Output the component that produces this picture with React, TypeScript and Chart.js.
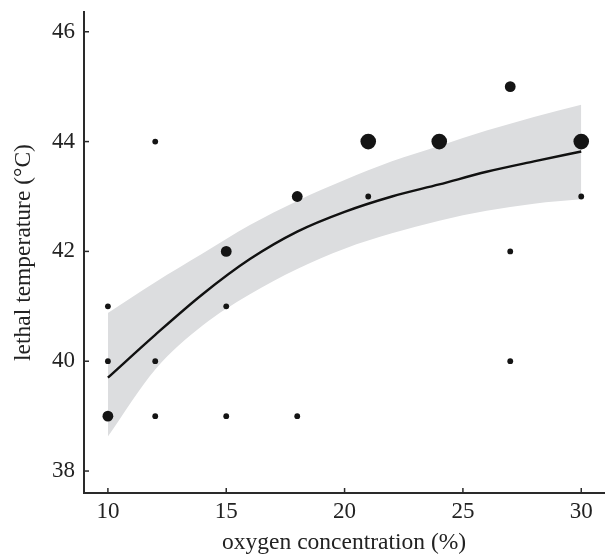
import React, { useEffect, useRef } from "react";
import { Chart, registerables } from "chart.js";

Chart.register(...registerables);

// Observations: oxygen concentration (%), lethal temperature (°C), number of overlapping observations
const obsOxygen = [10, 10, 10, 12, 12, 12, 15, 15, 15, 18, 18, 21, 21, 24, 27, 27, 27, 30, 30];
const obsTemp = [41, 40, 39, 44, 40, 39, 42, 41, 39, 43, 39, 44, 43, 44, 45, 42, 40, 44, 43];
const obsCount = [1, 1, 2, 1, 1, 1, 2, 1, 1, 2, 1, 3, 1, 3, 2, 1, 1, 3, 1];

// Fitted curve with confidence band
const fitOxygen = [10, 12, 14, 16, 18, 20, 22, 24, 26, 28, 30];
const fitTemp = [39.7, 40.48, 41.22, 41.86, 42.36, 42.72, 43.0, 43.22, 43.45, 43.64, 43.82];
const fitLower = [38.63, 39.85, 40.65, 41.22, 41.68, 42.05, 42.33, 42.56, 42.74, 42.87, 42.95];
const fitUpper = [40.88, 41.44, 41.96, 42.48, 42.92, 43.3, 43.64, 43.92, 44.2, 44.45, 44.67];

const xTicks = [10, 15, 20, 25, 30];
const yTicks = [38, 40, 42, 44, 46];
const xTitle = "oxygen concentration (%)";
const yTitle = "lethal temperature (°C)";

const radiusByCount: Record<number, number> = { 1: 2.9, 2: 5.4, 3: 7.8 };
const FONT = "'Liberation Serif', 'Times New Roman', serif";
const TEXT = "#222";
const AXIS = "#2a2a2a";

const inwardTicks = {
  id: "inwardTicks",
  afterDraw(chart: any) {
    const { ctx, chartArea, scales } = chart;
    ctx.save();
    ctx.strokeStyle = AXIS;
    ctx.lineWidth = 1.5;
    const len = 5;
    scales.x.ticks.forEach((t: any) => {
      const px = scales.x.getPixelForValue(t.value);
      ctx.beginPath();
      ctx.moveTo(px, chartArea.bottom);
      ctx.lineTo(px, chartArea.bottom - len);
      ctx.stroke();
    });
    scales.y.ticks.forEach((t: any) => {
      const py = scales.y.getPixelForValue(t.value);
      ctx.beginPath();
      ctx.moveTo(chartArea.left, py);
      ctx.lineTo(chartArea.left + len, py);
      ctx.stroke();
    });
    ctx.restore();
  },
};

export default function App() {
  const ref = useRef<HTMLCanvasElement | null>(null);

  useEffect(() => {
    document.body.style.margin = "0";
    if (!ref.current) return;
    const zip = (xs: number[], ys: number[]) => xs.map((x, i) => ({ x, y: ys[i] }));
    const chart = new Chart(ref.current, {
      type: "scatter",
      data: {
        datasets: [
          {
            type: "line",
            data: zip(fitOxygen, fitLower),
            borderWidth: 0,
            pointRadius: 0,
            borderColor: "rgba(0,0,0,0)",
            cubicInterpolationMode: "monotone",
            fill: false,
            order: 4,
          } as any,
          {
            type: "line",
            data: zip(fitOxygen, fitUpper),
            borderWidth: 0,
            pointRadius: 0,
            borderColor: "rgba(0,0,0,0)",
            backgroundColor: "#dcdddf",
            cubicInterpolationMode: "monotone",
            fill: "-1",
            order: 3,
          } as any,
          {
            type: "line",
            data: zip(fitOxygen, fitTemp),
            borderWidth: 2.4,
            borderColor: "#111",
            pointRadius: 0,
            cubicInterpolationMode: "monotone",
            fill: false,
            order: 2,
          } as any,
          {
            type: "scatter",
            data: zip(obsOxygen, obsTemp),
            pointRadius: obsCount.map((c) => radiusByCount[c]),
            pointHoverRadius: obsCount.map((c) => radiusByCount[c]),
            backgroundColor: "#141414",
            borderWidth: 0,
            order: 1,
          } as any,
        ],
      },
      options: {
        animation: false,
        responsive: false,
        layout: { padding: { left: 0, top: 12, right: 7, bottom: 0 } },
        plugins: { legend: { display: false }, tooltip: { enabled: false } },
        scales: {
          x: {
            type: "linear",
            min: 8.99,
            max: 30.97,
            afterBuildTicks: (s: any) => {
              s.ticks = xTicks.map((v) => ({ value: v }));
            },
            afterFit: (s: any) => {
              s.height = 65;
              s.paddingLeft = 0;
              s.paddingRight = 0;
            },
            grid: { display: false, drawTicks: false },
            border: { display: true, color: AXIS, width: 2 },
            ticks: {
              padding: 5,
              color: TEXT,
              font: { family: FONT, size: 23 },
              callback: (v: any) => String(v),
            },
            title: {
              display: true,
              text: xTitle,
              color: TEXT,
              font: { family: FONT, size: 23.5 },
              padding: { top: 0, bottom: 1 },
            },
          },
          y: {
            type: "linear",
            min: 37.6,
            max: 46.36,
            afterBuildTicks: (s: any) => {
              s.ticks = yTicks.map((v) => ({ value: v }));
            },
            afterFit: (s: any) => {
              s.width = 84;
              s.paddingTop = 0;
              s.paddingBottom = 0;
            },
            grid: { display: false, drawTicks: false },
            border: { display: true, color: AXIS, width: 2 },
            ticks: {
              padding: 9,
              color: TEXT,
              font: { family: FONT, size: 23 },
              callback: (v: any) => String(v),
            },
            title: {
              display: true,
              text: yTitle,
              color: TEXT,
              font: { family: FONT, size: 23.5 },
              padding: { top: 10, bottom: 0 },
            },
          },
        },
      },
      plugins: [inwardTicks],
    });
    return () => chart.destroy();
  }, []);

  return (
    <div style={{ width: 612, height: 558, background: "#fff" }}>
      <canvas ref={ref} width={612} height={558} style={{ display: "block" }} />
    </div>
  );
}
